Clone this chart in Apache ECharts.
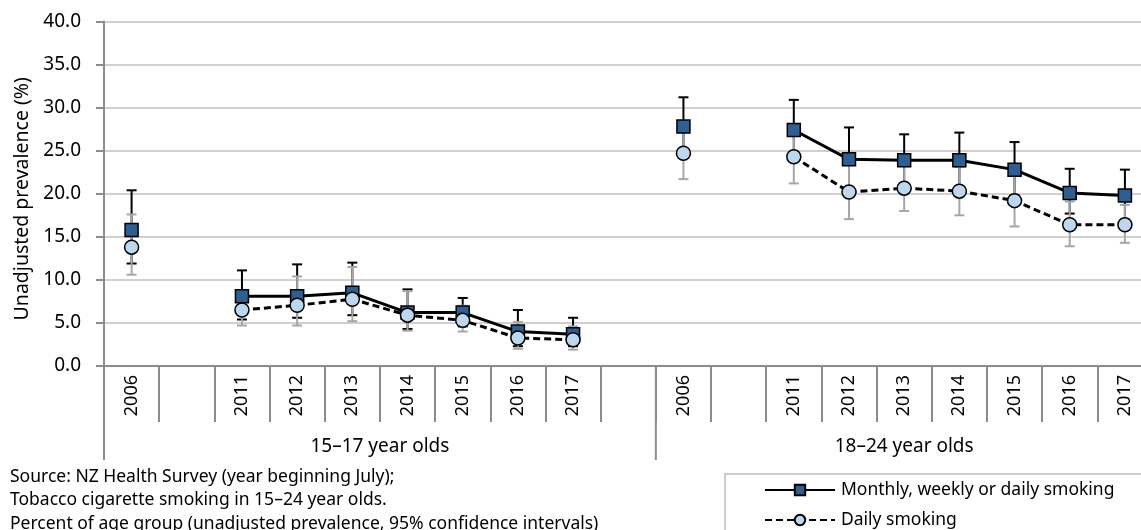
<!DOCTYPE html>
<html>
<head>
<meta charset="utf-8">
<script src="https://cdn.jsdelivr.net/npm/echarts@6/dist/echarts.min.js"></script>
<style>
html,body{margin:0;padding:0;background:#fff;overflow:hidden;width:1141px;height:530px;}
#chart{width:1160px;height:530px;}
</style>
</head>
<body>
<div id="chart"></div>
<script>
// ---- data ----
const categories = ['2006','','2011','2012','2013','2014','2015','2016','2017','','2006','','2011','2012','2013','2014','2015','2016','2017'];
const groupLabels = ['15–17 year olds','18–24 year olds'];
const groupSizes = [10, 9];
const yTicks = [0, 5, 10, 15, 20, 25, 30, 35, 40];

const monthly     = [15.8, null, 8.1, 8.1, 8.5, 6.2, 6.2, 4.0, 3.7, null, 27.8, null, 27.4, 24.0, 23.9, 23.9, 22.8, 20.1, 19.8];
const monthlyLow  = [11.9, null, 5.4, 5.6, 5.9, 4.3, 4.6, 2.3, 2.3, null, 24.5, null, 24.0, 20.6, 21.0, 20.8, 19.8, 17.7, 17.0];
const monthlyHigh = [20.4, null, 11.1, 11.8, 12.0, 8.9, 7.9, 6.5, 5.6, null, 31.2, null, 30.9, 27.7, 26.9, 27.1, 26.0, 22.9, 22.8];

const daily       = [13.8, null, 6.5, 7.05, 7.75, 5.9, 5.3, 3.25, 3.05, null, 24.7, null, 24.3, 20.2, 20.65, 20.3, 19.2, 16.4, 16.4];
const dailyLow    = [10.6, null, 4.7, 4.7, 5.2, 4.1, 4.0, 2.0, 1.9, null, 21.7, null, 21.2, 17.05, 18.0, 17.5, 16.2, 13.9, 14.3];
const dailyHigh   = [17.6, null, 8.4, 10.4, 11.5, 8.7, 7.0, 5.1, 4.6, null, 27.7, null, 27.5, 23.4, 23.4, 23.1, 22.3, 19.1, 18.7];

const sourceLines = [
  'Source: NZ Health Survey (year beginning July);',
  'Tobacco cigarette smoking in 15–24 year olds.',
  'Percent of age group (unadjusted prevalence, 95% confidence intervals)'
];
const seriesNames = ['Monthly, weekly or daily smoking', 'Daily smoking'];

// ---- chart ----
const FONT = 'Noto Sans';
const chart = echarts.init(document.getElementById('chart'), null, {renderer: 'canvas'});

function errData(lo, hi) {
  return lo.map((v, i) => [i, v, hi[i]]);
}
function errRender(color, width) {
  return function (params, api) {
    const lo = api.value(1), hi = api.value(2);
    if (lo == null || hi == null || isNaN(lo) || isNaN(hi)) return null;
    const x = api.value(0);
    const pLo = api.coord([x, lo]);
    const pHi = api.coord([x, hi]);
    const half = 5;
    const st = {stroke: color, lineWidth: width};
    return {
      type: 'group',
      children: [
        {type: 'line', shape: {x1: pLo[0], y1: pLo[1], x2: pHi[0], y2: pHi[1]}, style: st},
        {type: 'line', shape: {x1: pLo[0] - half, y1: pLo[1], x2: pLo[0] + half, y2: pLo[1]}, style: st},
        {type: 'line', shape: {x1: pHi[0] - half, y1: pHi[1], x2: pHi[0] + half, y2: pHi[1]}, style: st}
      ]
    };
  };
}

const legendCommon = {
  orient: 'horizontal',
  left: 764,
  itemWidth: 70, itemHeight: 13, itemGap: 0,
  padding: 0,
  textStyle: {fontSize: 17.5, color: '#000', fontFamily: FONT, padding: [0, 0, 0, 1]}
};

const option = {
  animation: false,
  textStyle: {fontFamily: FONT},
  grid: {left: 104, top: 21.5, width: 1048.5, height: 344.5, containLabel: false},
  xAxis: {
    type: 'category',
    data: categories,
    boundaryGap: true,
    axisLine: {lineStyle: {color: '#8c8c8c', width: 2}},
    axisTick: {show: true, length: 56, interval: 0, lineStyle: {color: '#8c8c8c', width: 2}},
    axisLabel: {interval: 0, rotate: 90, margin: 9, fontSize: 18, color: '#000', fontFamily: FONT},
    splitLine: {show: false}
  },
  yAxis: {
    type: 'value',
    min: 0, max: 40, interval: 5,
    name: 'Unadjusted prevalence (%)',
    nameLocation: 'middle',
    nameGap: 70,
    nameTextStyle: {fontSize: 19.5, color: '#000', fontFamily: FONT, padding: [0, 10, 0, 0]},
    axisLine: {show: true, lineStyle: {color: '#8c8c8c', width: 2}},
    axisTick: {show: true, length: 8, lineStyle: {color: '#8c8c8c', width: 2}},
    axisLabel: {fontSize: 19, color: '#000', margin: 23, fontFamily: FONT,
      formatter: v => yTicks.indexOf(v) >= 0 ? v.toFixed(1) : ''},
    splitLine: {show: true, lineStyle: {color: '#d0d0d0', width: 2}}
  },
  legend: [
    Object.assign({}, legendCommon, {data: [seriesNames[0]], top: 481}),
    Object.assign({}, legendCommon, {data: [seriesNames[1]], top: 511})
  ],
  title: {
    text: sourceLines.join('\n'),
    left: 10, top: 465,
    padding: 0,
    textStyle: {fontSize: 17.5, fontWeight: 'normal', color: '#000', lineHeight: 23.5, fontFamily: FONT}
  },
  series: [
    {
      type: 'custom', name: 'mErr', z: 2,
      renderItem: errRender('#000000', 2),
      encode: {x: 0, y: [1, 2]},
      data: errData(monthlyLow, monthlyHigh),
      silent: true
    },
    {
      type: 'custom', name: 'dErr', z: 3,
      renderItem: errRender('#a6a6a6', 2),
      encode: {x: 0, y: [1, 2]},
      data: errData(dailyLow, dailyHigh),
      silent: true
    },
    {
      type: 'line', name: seriesNames[0], z: 4,
      data: monthly,
      connectNulls: false,
      symbol: 'rect', symbolSize: 13,
      lineStyle: {color: '#000', width: 3, type: 'solid'},
      itemStyle: {color: '#2f5e92', borderColor: '#000', borderWidth: 1.5}
    },
    {
      type: 'line', name: seriesNames[1], z: 5,
      data: daily,
      connectNulls: false,
      symbol: 'circle', symbolSize: 14,
      lineStyle: {color: '#000', width: 3, type: [7, 4]},
      itemStyle: {color: '#bdd7ee', borderColor: '#000', borderWidth: 1.5}
    }
  ]
};
chart.setOption(option);

// group dividers and labels computed from the axis scale
function decorate() {
  const c0 = chart.convertToPixel({xAxisIndex: 0}, 0);
  const c1 = chart.convertToPixel({xAxisIndex: 0}, 1);
  const band = c1 - c0;
  const y0 = chart.convertToPixel({yAxisIndex: 0}, 0);
  const elems = [];
  let start = 0;
  const bounds = [start];
  groupSizes.forEach(s => { start += s; bounds.push(start); });
  bounds.forEach(b => {
    const x = c0 - band / 2 + b * band;
    elems.push({type: 'line', silent: true, shape: {x1: x, y1: y0, x2: x, y2: y0 + 94},
      style: {stroke: '#8c8c8c', lineWidth: 2}});
  });
  groupSizes.forEach((s, gi) => {
    const xs = c0 - band / 2 + bounds[gi] * band;
    const xe = c0 - band / 2 + bounds[gi + 1] * band;
    elems.push({type: 'text', silent: true, x: (xs + xe) / 2, y: y0 + 81,
      style: {text: groupLabels[gi], fontSize: 19, fontFamily: FONT, fill: '#000', align: 'center', verticalAlign: 'middle'}});
  });
  // legend frame
  elems.push({type: 'rect', silent: true, z: -1, shape: {x: 725, y: 474, width: 600, height: 120},
    style: {fill: '#fff', stroke: '#bfbfbf', lineWidth: 1.5}});
  chart.setOption({graphic: {elements: elems}});
}
decorate();
</script>
</body>
</html>
